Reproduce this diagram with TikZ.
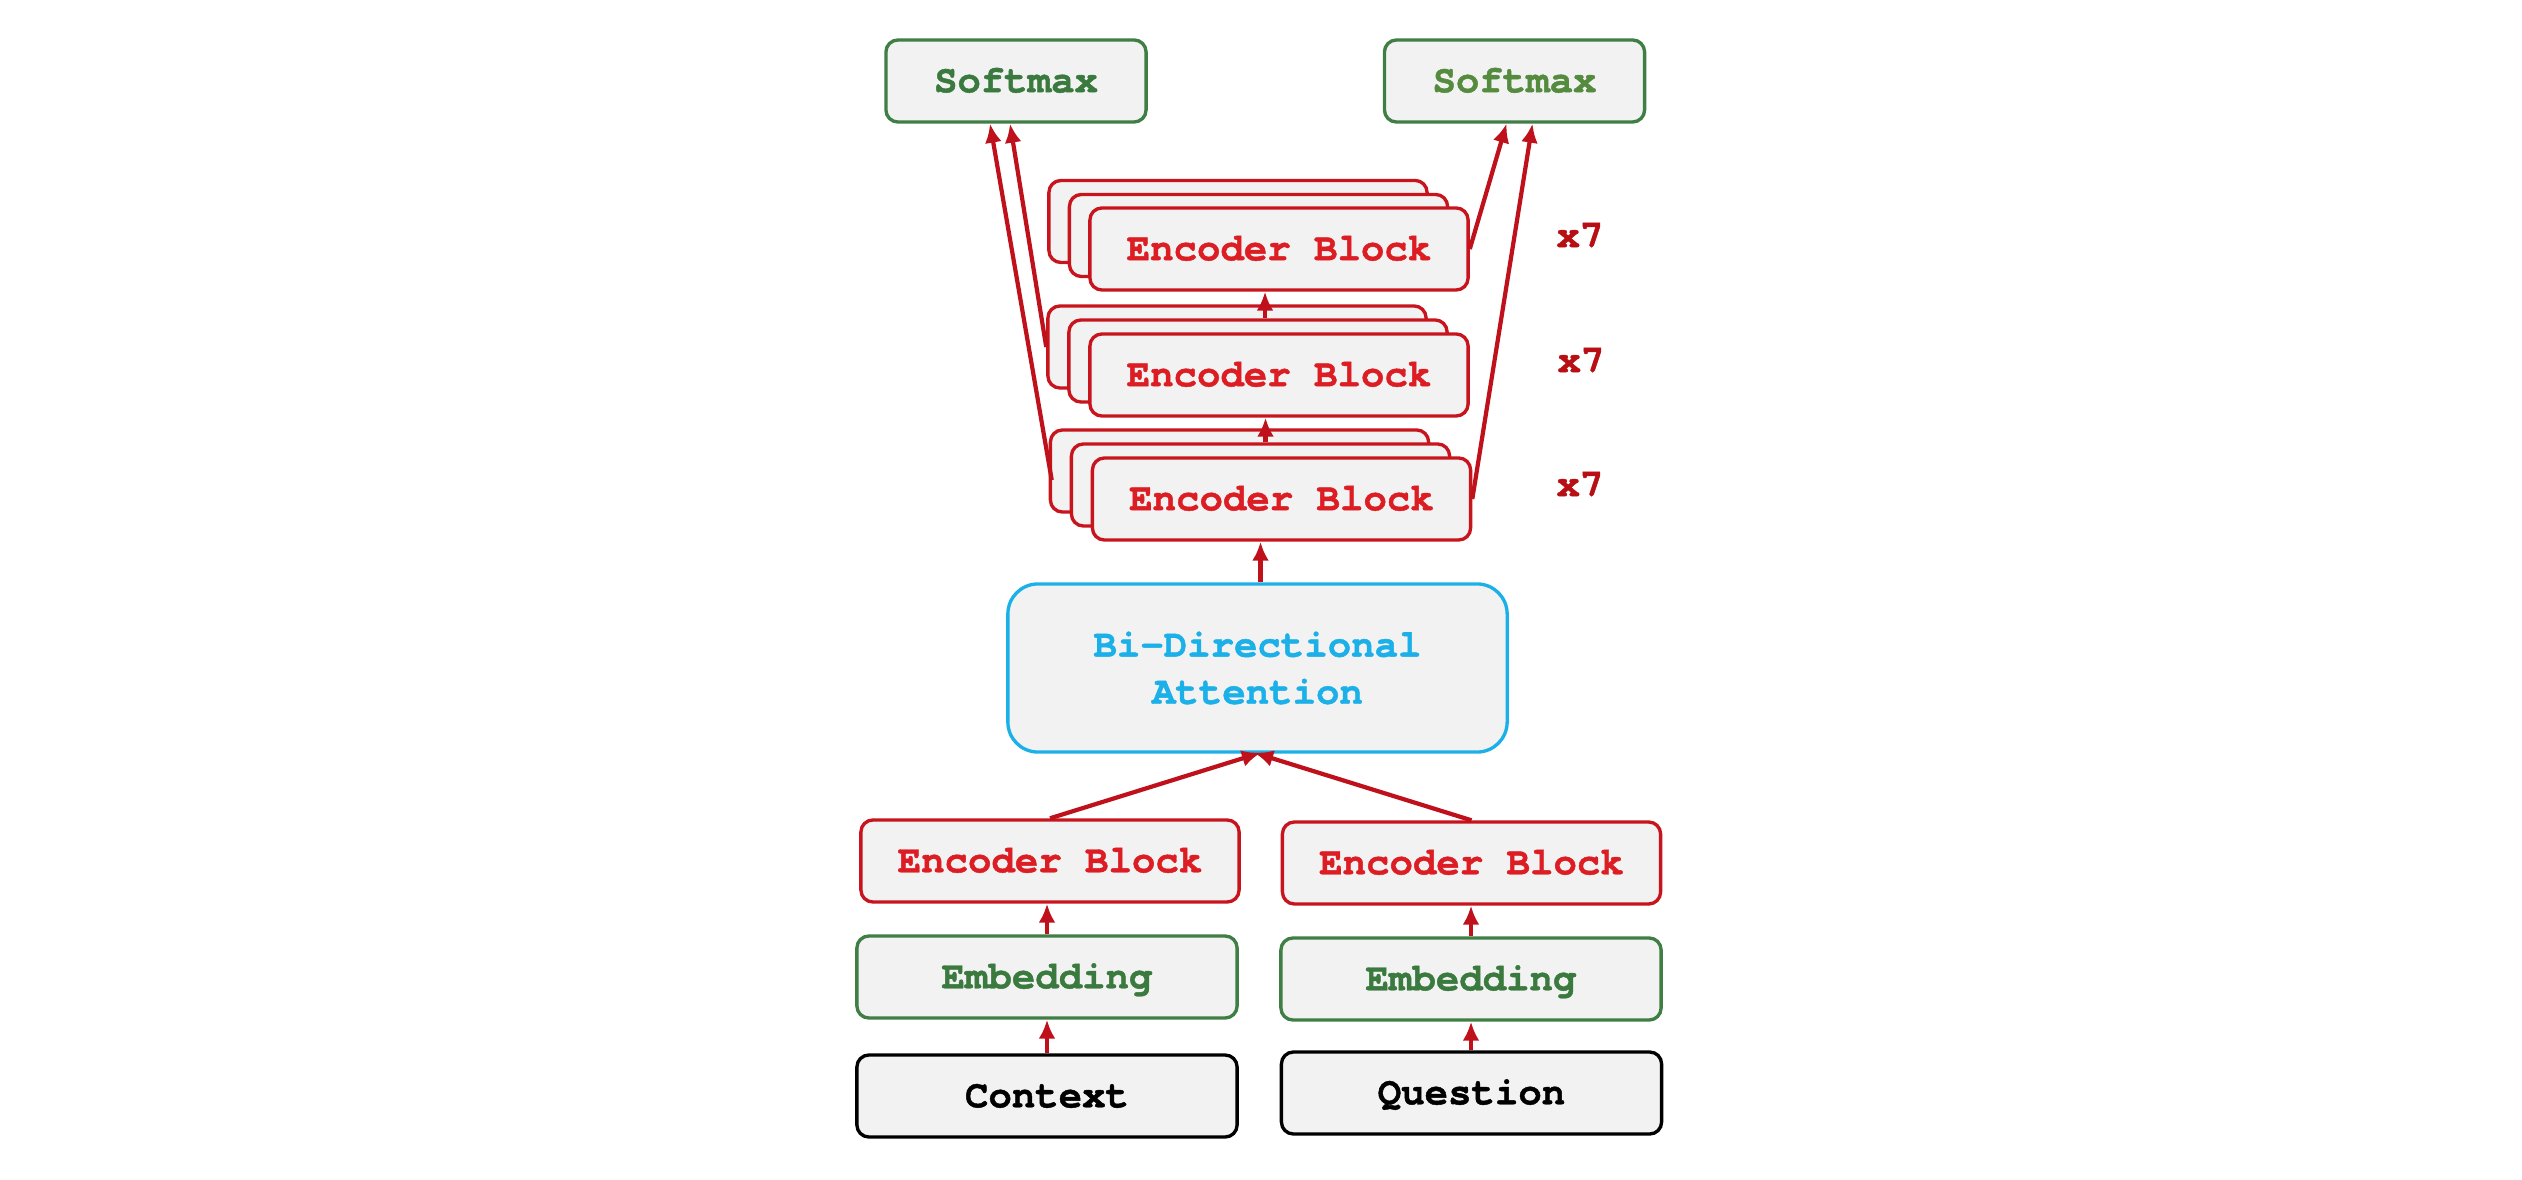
\documentclass[tikz,border=0pt]{standalone}
\usepackage{fontspec}
\newfontfamily\cur{TeX Gyre Cursor}[BoldFeatures={FakeBold=1.2}]
\usetikzlibrary{arrows.meta,calc}
\definecolor{redline}{HTML}{C8141C}
\definecolor{redtext}{HTML}{DC1E24}
\definecolor{arrowred}{HTML}{BE111B}
\definecolor{xsev}{HTML}{B80F14}
\definecolor{greenline}{HTML}{3F7E44}
\definecolor{greentext}{HTML}{3A7A3E}
\definecolor{greentextb}{HTML}{558B3E}
\definecolor{blueline}{HTML}{1CB0E8}
\definecolor{boxfill}{HTML}{F2F2F2}
\tikzset{
  box/.style={draw, fill=boxfill, line width=0.95pt, rounded corners=0.12cm,
    minimum width=3.8cm, minimum height=0.82cm, inner sep=0pt,
    font=\cur\fontsize{11.1}{13.4}\selectfont\bfseries, text height=6.4pt, text depth=0pt},
  encbox/.style={box, draw=redline, text=redtext, minimum width=3.78cm},
  stackbox/.style={box, draw=redline, minimum width=3.78cm},
  embbox/.style={box, draw=greenline, text=greentext},
  inbox/.style={box, draw=black, text=black},
  smbox/.style={box, draw=greenline, minimum width=2.6cm},
  attbox/.style={box, draw=blueline, text=blueline, rounded corners=0.3cm,
    minimum width=4.99cm, minimum height=1.68cm, align=center, text height=, text depth=},
  xlabel/.style={font=\cur\fontsize{11.1}{13.4}\selectfont\bfseries, text=xsev, inner sep=0pt, text height=6.4pt, text depth=0pt},
  arr/.style={draw=arrowred, line width=1.2pt, -{Latex[length=5.4pt,width=4.8pt]}}
}
\begin{document}
\begin{tikzpicture}[x=0.01cm, y=-0.01cm]
\useasboundingbox (0,0) rectangle (2522,1180);
% softmax
\node[smbox, text=greentext] (smL) at (1016,81) {Softmax};
\node[smbox, text=greentextb] (smR) at (1514.5,81) {Softmax};
% top stack
\node[stackbox] (s3b) at (1238,221.5) {};
\node[stackbox] (s3m) at (1258.5,235.5) {};
\node[encbox] (s3f) at (1279,249) {Encoder Block};
% middle stack
\node[stackbox] (s2b) at (1237,347) {};
\node[stackbox] (s2m) at (1258,361) {};
\node[encbox] (s2f) at (1279,375) {Encoder Block};
% bottom stack
\node[stackbox] (s1b) at (1239.5,471) {};
\node[stackbox] (s1m) at (1260.5,485) {};
\node[encbox] (s1f) at (1281.5,499) {Encoder Block};
% x7 labels
\node[xlabel] (x3) at (1580,236) {x7};
\node[xlabel] (x2) at (1581,361) {x7};
\node[xlabel] (x1) at (1580,485) {x7};
% attention
\node[attbox] (att) at (1257.5,668) {Bi-Directional\\Attention};
% lower
\node[encbox] (encL) at (1050,861) {Encoder Block};
\node[encbox] (encR) at (1471.5,863) {Encoder Block};
\node[embbox] (embL) at (1047,977) {Embedding};
\node[embbox] (embR) at (1471,979) {Embedding};
\node[inbox] (ctx) at (1047,1096) {Context};
\node[inbox] (qst) at (1471.5,1093) {Question};
% coordinates
\coordinate (smLa) at ($(smL.south)+(-26,0)$);
\coordinate (smLb) at ($(smL.south)+(-6,0)$);
\coordinate (smRa) at ($(smR.south)+(-8,0)$);
\coordinate (smRb) at ($(smR.south)+(18,0)$);
\coordinate (s1bw) at ($(s1b.west)+(3,9)$);
% arrows
\draw[arr] (ctx.north -| embL.south) -- (embL.south);
\draw[arr] (qst.north -| embR.south) -- (embR.south);
\draw[arr] (embL.north) -- (embL.north |- encL.south);
\draw[arr] (embR.north) -- (embR.north |- encR.south);
\draw[arr, shorten >=-1pt] (encL.north) -- (att.south);
\draw[arr, shorten >=-1pt] (encR.north) -- (att.south);
\draw[arr] (att.north -| s1m.north) -- (s1m.north |- s1f.south);
\draw[arr] ($(s1m.north)+(5,0)$) -- ($(s1m.north |- s2f.south)+(5,0)$);
\draw[arr] ($(s2m.north)+(7,0)$) -- ($(s2m.north |- s3f.south)+(7,0)$);
\draw[arr] (s1bw) -- (smLa);
\draw[arr] (s2b.west) -- (smLb);
\draw[arr] (s3f.east) -- (smRa);
\draw[arr] (s1f.east) -- (smRb);
\end{tikzpicture}
\end{document}
